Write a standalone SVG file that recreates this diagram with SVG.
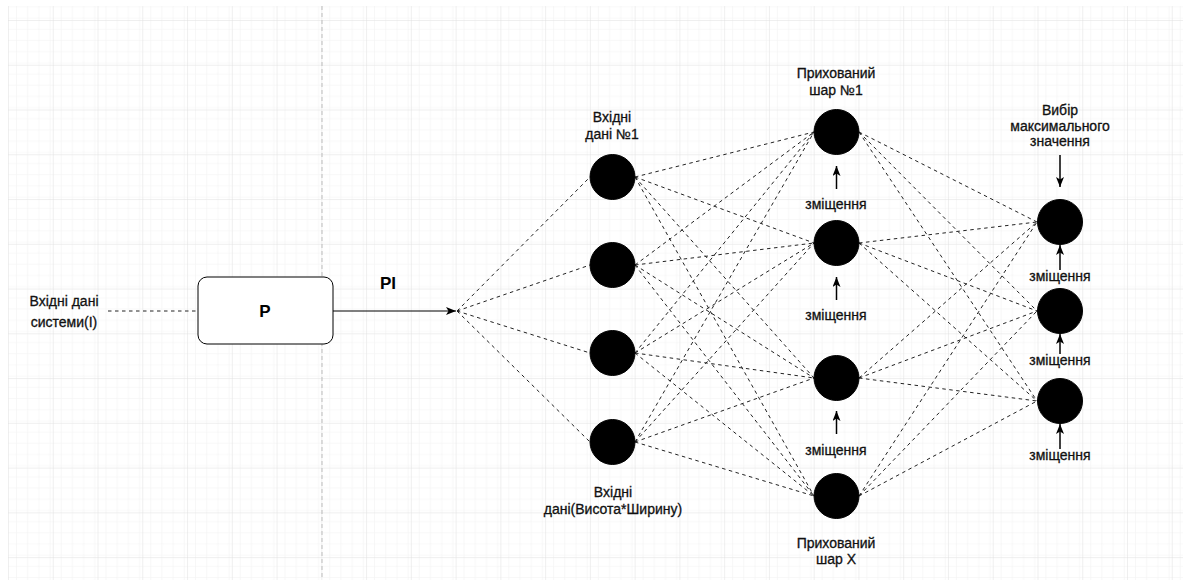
<svg xmlns="http://www.w3.org/2000/svg" width="1183" height="580" viewBox="0 0 1183 580">
  <defs>
    <pattern id="gridMinor" width="11.19" height="11.19" patternUnits="userSpaceOnUse" x="8" y="20">
      <path d="M0 0H11.19M0 0V11.19" fill="none" stroke="#f1f1f1" stroke-width="1"/>
    </pattern>
    <pattern id="gridMajor" width="44.76" height="44.76" patternUnits="userSpaceOnUse" x="8" y="20">
      <rect width="44.76" height="44.76" fill="url(#gridMinor)"/>
      <path d="M0 0H44.76M0 0V44.76" fill="none" stroke="#e0e0e0" stroke-width="1"/>
    </pattern>
    <marker id="arrow" markerWidth="11" markerHeight="9" refX="10" refY="4" orient="auto" markerUnits="userSpaceOnUse">
      <path d="M0,0 L10,4 L0,8 L2.5,4 Z" fill="#000"/>
    </marker>
    <style>
      .lbl { font-family: "Liberation Sans", Arial, sans-serif; font-size: 14px; fill: #111; stroke: #111; stroke-width: 0.3; text-anchor: middle; }
      .big { font-family: "Liberation Sans", Arial, sans-serif; font-size: 17px; font-weight: bold; fill: #000; text-anchor: middle; }
      .dash { stroke: #222; stroke-width: 1; stroke-dasharray: 3.5 3.5; fill: none; }
      .solid { stroke: #000; stroke-width: 1.2; fill: none; }
      .bias { stroke: #000; stroke-width: 1.5; fill: none; marker-end: url(#arrow); }
      .neuron { fill: #000; stroke: #000; stroke-width: 1; }
    </style>
  </defs>

  <!-- canvas background and grid -->
  <rect width="1183" height="580" fill="#fff"/>
  <rect x="8" y="6" width="1175" height="574" fill="url(#gridMajor)"/>
  <line x1="322" y1="6" x2="322" y2="580" stroke="#bdbdbd" stroke-width="1" stroke-dasharray="4 3"/>

  <!-- connectors -->
  <g id="connectors">
    <line class="dash" x1="108" y1="311" x2="198" y2="311"/>
    <line class="solid" x1="333" y1="311" x2="456" y2="311" marker-end="url(#arrow)"/>

    <!-- fan into the input layer -->
    <line class="dash" x1="457" y1="311" x2="590" y2="177"/>
    <line class="dash" x1="457" y1="311" x2="590" y2="265"/>
    <line class="dash" x1="457" y1="311" x2="590" y2="353"/>
    <line class="dash" x1="457" y1="311" x2="590" y2="442"/>

    <!-- input layer to hidden layer -->
    <line class="dash" x1="635" y1="177" x2="814" y2="132"/>
    <line class="dash" x1="635" y1="177" x2="814" y2="243"/>
    <line class="dash" x1="635" y1="177" x2="814" y2="378"/>
    <line class="dash" x1="635" y1="177" x2="814" y2="496"/>
    <line class="dash" x1="635" y1="265" x2="814" y2="132"/>
    <line class="dash" x1="635" y1="265" x2="814" y2="243"/>
    <line class="dash" x1="635" y1="265" x2="814" y2="378"/>
    <line class="dash" x1="635" y1="265" x2="814" y2="496"/>
    <line class="dash" x1="635" y1="353" x2="814" y2="132"/>
    <line class="dash" x1="635" y1="353" x2="814" y2="243"/>
    <line class="dash" x1="635" y1="353" x2="814" y2="378"/>
    <line class="dash" x1="635" y1="353" x2="814" y2="496"/>
    <line class="dash" x1="635" y1="442" x2="814" y2="132"/>
    <line class="dash" x1="635" y1="442" x2="814" y2="243"/>
    <line class="dash" x1="635" y1="442" x2="814" y2="378"/>
    <line class="dash" x1="635" y1="442" x2="814" y2="496"/>

    <!-- hidden layer to output layer -->
    <line class="dash" x1="859" y1="132" x2="1037" y2="222"/>
    <line class="dash" x1="859" y1="132" x2="1037" y2="311"/>
    <line class="dash" x1="859" y1="132" x2="1037" y2="401"/>
    <line class="dash" x1="859" y1="243" x2="1037" y2="222"/>
    <line class="dash" x1="859" y1="243" x2="1037" y2="311"/>
    <line class="dash" x1="859" y1="243" x2="1037" y2="401"/>
    <line class="dash" x1="859" y1="378" x2="1037" y2="222"/>
    <line class="dash" x1="859" y1="378" x2="1037" y2="311"/>
    <line class="dash" x1="859" y1="378" x2="1037" y2="401"/>
    <line class="dash" x1="859" y1="496" x2="1037" y2="222"/>
    <line class="dash" x1="859" y1="496" x2="1037" y2="311"/>
    <line class="dash" x1="859" y1="496" x2="1037" y2="401"/>

    <!-- bias arrows -->
    <line class="bias" x1="836.5" y1="189" x2="836.5" y2="166"/>
    <line class="bias" x1="836.5" y1="300" x2="836.5" y2="277"/>
    <line class="bias" x1="836.5" y1="434" x2="836.5" y2="411"/>
    <line class="bias" x1="1060" y1="270" x2="1060" y2="245"/>
    <line class="bias" x1="1060" y1="354" x2="1060" y2="334"/>
    <line class="bias" x1="1060" y1="449" x2="1060" y2="424"/>
    <line class="bias" x1="1060" y1="155" x2="1060" y2="187"/>
  </g>

  <!-- system input -->
  <g id="system-input">
    <text class="lbl" x="64" y="306">Вхідні дані</text>
    <text class="lbl" x="64" y="327">системи(I)</text>
  </g>

  <!-- preprocessing block -->
  <g id="block-p">
    <rect x="198" y="277" width="135" height="67" rx="9" ry="9" fill="#fff" stroke="#000" stroke-width="1"/>
    <text class="big" x="265" y="317">P</text>
  </g>
  <g id="label-pi">
    <text class="big" x="388" y="289">PI</text>
  </g>

  <!-- input layer -->
  <g id="input-1">
    <circle class="neuron" cx="612.5" cy="177" r="22.5"/>
    <text class="lbl" x="612" y="122">Вхідні</text>
    <text class="lbl" x="612" y="139">дані №1</text>
  </g>
  <g id="input-2"><circle class="neuron" cx="612.5" cy="265" r="22.5"/></g>
  <g id="input-3"><circle class="neuron" cx="612.5" cy="353" r="22.5"/></g>
  <g id="input-4">
    <circle class="neuron" cx="612.5" cy="442" r="22.5"/>
    <text class="lbl" x="613" y="497">Вхідні</text>
    <text class="lbl" x="613" y="514">дані(Висота*Ширину)</text>
  </g>

  <!-- hidden layer -->
  <g id="hidden-1">
    <circle class="neuron" cx="836.5" cy="132" r="22.5"/>
    <text class="lbl" x="836" y="78">Прихований</text>
    <text class="lbl" x="836" y="95">шар №1</text>
    <text class="lbl" x="836" y="209">зміщення</text>
  </g>
  <g id="hidden-2">
    <circle class="neuron" cx="836.5" cy="243" r="22.5"/>
    <text class="lbl" x="836" y="320">зміщення</text>
  </g>
  <g id="hidden-3">
    <circle class="neuron" cx="836.5" cy="378" r="22.5"/>
    <text class="lbl" x="836" y="455">зміщення</text>
  </g>
  <g id="hidden-4">
    <circle class="neuron" cx="836.5" cy="496" r="22.5"/>
    <text class="lbl" x="836" y="548">Прихований</text>
    <text class="lbl" x="836" y="564">шар X</text>
  </g>

  <!-- output layer -->
  <g id="output-label">
    <text class="lbl" x="1060" y="115">Вибір</text>
    <text class="lbl" x="1060" y="131">максимального</text>
    <text class="lbl" x="1060" y="146">значення</text>
  </g>
  <g id="output-1">
    <circle class="neuron" cx="1060" cy="222" r="22.5"/>
    <text class="lbl" x="1060" y="281">зміщення</text>
  </g>
  <g id="output-2">
    <circle class="neuron" cx="1060" cy="311" r="22.5"/>
    <text class="lbl" x="1060" y="365">зміщення</text>
  </g>
  <g id="output-3">
    <circle class="neuron" cx="1060" cy="401" r="22.5"/>
    <text class="lbl" x="1060" y="460">зміщення</text>
  </g>
</svg>
